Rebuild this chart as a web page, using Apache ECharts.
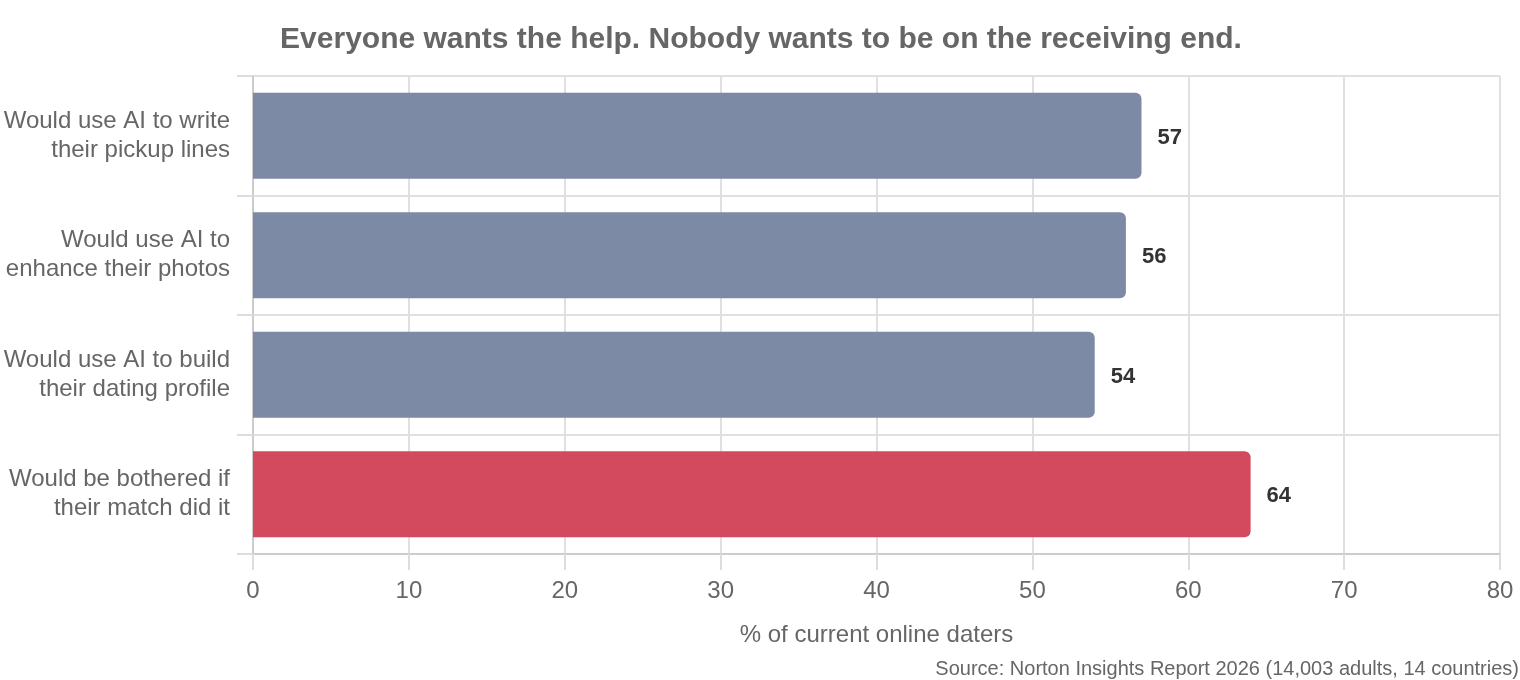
<!DOCTYPE html>
<html>
<head>
<meta charset="utf-8">
<script src="https://cdn.jsdelivr.net/npm/echarts@6/dist/echarts.min.js"></script>
<style>
  html, body { margin: 0; padding: 0; background: #fff; }
  #chart { width: 1520px; height: 680px; }
</style>
</head>
<body>
<div id="chart"></div>
<script>
// 数据（从上到下）
var categories = [
    'Would use AI to write\ntheir pickup lines',
    'Would use AI to\nenhance their photos',
    'Would use AI to build\ntheir dating profile',
    'Would be bothered if\ntheir match did it'
];
var values = [57, 56, 54, 64];
var barColors = ['#7D8AA5', '#7D8AA5', '#7D8AA5', '#D3495D'];
var xTicks = [0, 10, 20, 30, 40, 50, 60, 70, 80];

var FONT = '"Liberation Sans", Arial, sans-serif';

var chart = echarts.init(document.getElementById('chart'));

var option = {
    backgroundColor: '#fff',
    animation: false,
    textStyle: { fontFamily: FONT },
    title: [{
        text: 'Everyone wants the help. Nobody wants to be on the receiving end.',
        left: 761,
        textAlign: 'center',
        top: 25,
        padding: 0,
        textStyle: { color: '#666', fontSize: 30, fontWeight: 'bold', fontFamily: FONT }
    }, {
        text: 'Source: Norton Insights Report 2026 (14,003 adults, 14 countries)',
        right: 1,
        bottom: 1,
        padding: 0,
        textStyle: { color: '#666', fontSize: 20, fontWeight: 'normal', fontFamily: FONT }
    }],
    grid: { left: 253, right: 20, top: 76, bottom: 126 },
    xAxis: {
        type: 'value',
        min: xTicks[0],
        max: xTicks[xTicks.length - 1],
        interval: 10,
        name: '% of current online daters',
        nameLocation: 'middle',
        nameGap: 69,
        nameTextStyle: { color: '#666', fontSize: 24, fontFamily: FONT },
        axisLine: { show: true, lineStyle: { color: '#ccc', width: 2 } },
        axisTick: { show: true, length: 16, lineStyle: { color: '#ddd', width: 2 } },
        axisLabel: { color: '#666', fontSize: 24, margin: 25, fontFamily: FONT },
        splitLine: { show: true, lineStyle: { color: '#e0e0e0', width: 2 } }
    },
    yAxis: {
        type: 'category',
        inverse: true,
        data: categories,
        axisLine: { show: true, lineStyle: { color: '#ccc', width: 2 } },
        axisTick: { show: true, length: 16, lineStyle: { color: '#ddd', width: 2 } },
        axisLabel: {
            color: '#666', fontSize: 24, lineHeight: 29, margin: 23,
            padding: [6, 0, 0, 0], align: 'right', fontFamily: FONT
        },
        splitLine: { show: true, lineStyle: { color: '#e0e0e0', width: 2 } }
    },
    series: [{
        type: 'bar',
        barWidth: '72%',
        data: values.map(function(v, i) {
            return { value: v, itemStyle: { color: barColors[i] } };
        }),
        itemStyle: { borderRadius: [0, 6, 6, 0] },
        label: {
            show: true,
            position: 'right',
            distance: 16,
            offset: [0, 2],
            color: '#333',
            fontSize: 22,
            fontWeight: 'bold',
            fontFamily: FONT
        }
    }]
};

chart.setOption(option);
</script>
</body>
</html>
